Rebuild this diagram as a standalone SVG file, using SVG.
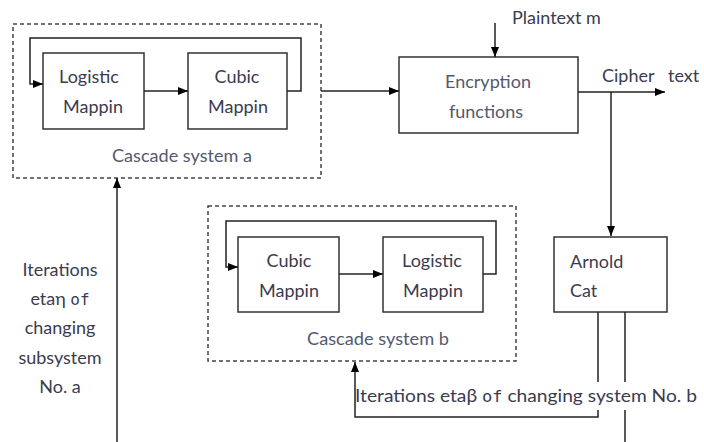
<svg xmlns="http://www.w3.org/2000/svg" width="704" height="442" viewBox="0 0 704 442">
<defs>
<marker id="ah" markerWidth="10" markerHeight="8" refX="10" refY="4" orient="auto" markerUnits="userSpaceOnUse">
<path d="M0,0 L10,4 L0,8 Z" fill="#000"/>
</marker>
<style>
.box{fill:#fff;stroke:#333;stroke-width:1.5}
.dash{fill:none;stroke:#444;stroke-width:1.5;stroke-dasharray:4 3}
.ln{fill:none;stroke:#222;stroke-width:1.5}
.t{font-family:Lato,"Open Sans","Liberation Sans",sans-serif;font-size:18px;fill:#3b3b4f}
.c{text-anchor:middle}
.g{fill:#55596e}
.m{font-family:"DejaVu Sans Mono","Liberation Mono",monospace;font-size:16px}
</style>
</defs>
<rect width="704" height="442" fill="#fff"/>

<g id="cascade-a">
<rect class="dash" x="13" y="24" width="308" height="154"/>
<text class="t g" x="112" y="162" textLength="140" lengthAdjust="spacingAndGlyphs">Cascade system a</text>
</g>
<g id="logistic-a">
<rect class="box" x="43" y="53" width="101" height="76"/>
<text class="t c" x="89" y="83">Logistic</text>
<text class="t c" x="93" y="113">Mappin</text>
</g>
<g id="cubic-a">
<rect class="box" x="188" y="53" width="99" height="76"/>
<text class="t c" x="237" y="83">Cubic</text>
<text class="t c" x="238" y="113">Mappin</text>
</g>
<g id="encryption">
<rect class="box" x="399" y="57" width="179" height="76"/>
<text class="t c g" x="488" y="88">Encryption</text>
<text class="t c g" x="486" y="118">functions</text>
</g>
<g id="plaintext">
<text class="t" x="512" y="24">Plaintext m</text>
</g>
<g id="ciphertext">
<text class="t" x="602" y="82">Cipher</text>
<text class="t" x="668" y="82">text</text>
</g>
<g id="arnold">
<rect class="box" x="554" y="237" width="113" height="75"/>
<text class="t" x="570" y="268">Arnold</text>
<text class="t" x="570" y="297">Cat</text>
</g>
<g id="cascade-b">
<rect class="dash" x="208" y="206" width="308" height="155"/>
<text class="t g" x="307" y="345" textLength="142" lengthAdjust="spacingAndGlyphs">Cascade system b</text>
</g>
<g id="cubic-b">
<rect class="box" x="238" y="237" width="101" height="75"/>
<text class="t c" x="289" y="267">Cubic</text>
<text class="t c" x="289" y="297">Mappin</text>
</g>
<g id="logistic-b">
<rect class="box" x="383" y="237" width="100" height="75"/>
<text class="t c" x="432" y="267">Logistic</text>
<text class="t c" x="433" y="297">Mappin</text>
</g>
<g id="label-a">
<text class="t c" x="60" y="276">Iterations</text>
<text class="t c" x="60" y="305">eta<tspan>η</tspan> <tspan class="m">of</tspan></text>
<text class="t c" x="60" y="334">changing</text>
<text class="t c" x="60" y="364">subsystem</text>
<text class="t c" x="60" y="393">No. a</text>
</g>
<g id="label-b">
<text class="t" x="355" y="402" textLength="342" lengthAdjust="spacingAndGlyphs">Iterations etaβ <tspan class="m">of</tspan> changing system No. b</text>
</g>

<g id="connectors">
<path class="ln" d="M287,91 H301 V38 H30 V84 H43" marker-end="url(#ah)"/>
<path class="ln" d="M144,91 H188" marker-end="url(#ah)"/>
<path class="ln" d="M321,91 H399" marker-end="url(#ah)"/>
<path class="ln" d="M495,23 V57" marker-end="url(#ah)"/>
<path class="ln" d="M578,92 H665" marker-end="url(#ah)"/>
<path class="ln" d="M611,92 V236" marker-end="url(#ah)"/>
<path class="ln" d="M483,274 H496 V221 H226 V267 H238" marker-end="url(#ah)"/>
<path class="ln" d="M339,274 H383" marker-end="url(#ah)"/>
<path class="ln" d="M598,312 V382"/>
<path class="ln" d="M598,410 V417 H355 V362" marker-end="url(#ah)"/>
<path class="ln" d="M625,312 V382"/>
<path class="ln" d="M625,410 V442"/>
<path class="ln" d="M117,442 V178" marker-end="url(#ah)"/>
</g>
</svg>
